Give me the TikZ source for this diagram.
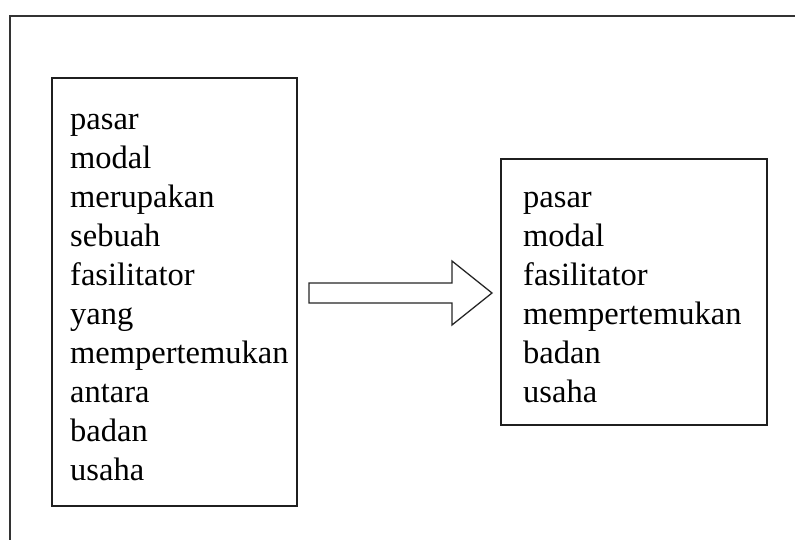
\documentclass[tikz,border=0pt]{standalone}
\usepackage{fontspec}
\setmainfont{Liberation Serif}
\begin{document}
\begin{tikzpicture}[x=1pt,y=-1pt,
  frameline/.style={draw=black!80, line width=2.6pt},
  wordbox/.style={draw=black!88, line width=2pt, fill=white},
  words/.style={anchor=base west, align=left, inner sep=0pt, font=\fontsize{32.5}{39}\selectfont},
  bigarrow/.style={draw=black!85, line width=1.3pt, fill=white, line join=miter}]
\useasboundingbox (0,0) rectangle (795,540);
\draw[frameline] (10,545) -- (10,16) -- (800,16);
\node[wordbox, minimum width=245pt, minimum height=428pt, anchor=north west] (left) at (51,77) {};
\node[wordbox, minimum width=266pt, minimum height=266pt, anchor=north west] (right) at (500,158) {};
\node[words] (lefttext) at (70,480) {pasar\\modal\\merupakan\\sebuah\\fasilitator\\yang\\mempertemukan\\antara\\badan\\usaha};
\node[words] (righttext) at (523,402) {pasar\\modal\\fasilitator\\mempertemukan\\badan\\usaha};
\coordinate (tail) at (309,293);
\coordinate (tip) at (492,293);
\draw[bigarrow] (tail) ++(0,-10) -- ++(143,0) -- ++(0,-22) -- (tip) -- (452,325) -- (452,303) -- (309,303) -- cycle;
\end{tikzpicture}
\end{document}
